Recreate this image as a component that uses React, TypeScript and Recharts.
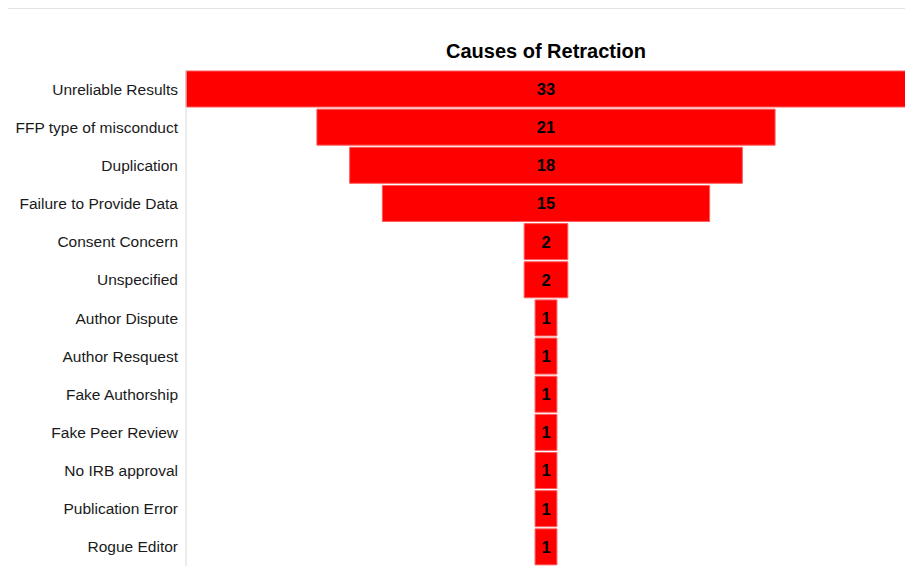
import React from 'react';
import { BarChart, Bar, XAxis, YAxis, LabelList } from 'recharts';

// retraction causes, ordered largest first so the bars form a funnel
const causes = [
  'Unreliable Results',
  'FFP type of misconduct',
  'Duplication',
  'Failure to Provide Data',
  'Consent Concern',
  'Unspecified',
  'Author Dispute',
  'Author Resquest',
  'Fake Authorship',
  'Fake Peer Review',
  'No IRB approval',
  'Publication Error',
  'Rogue Editor',
];
const counts = [33, 21, 18, 15, 2, 2, 1, 1, 1, 1, 1, 1, 1];

const maxCount = Math.max(...counts);

// an invisible "pad" bar pushes each count bar to the centre
const funnelData = causes.map((cause, i) => ({
  cause,
  count: counts[i],
  pad: (maxCount - counts[i]) / 2,
}));

const FONT = '"Liberation Sans", Arial, sans-serif';

const CountLabel = (props: any) => {
  const { x, y, width, height, value } = props;
  return (
    <text
      x={Number(x) + Number(width) / 2}
      y={Number(y) + Number(height) / 2}
      dy="0.36em"
      textAnchor="middle"
      fill="#000"
      fontSize={16.5}
      fontWeight={700}
      fontFamily={FONT}
    >
      {value}
    </text>
  );
};

export default function App() {
  return (
    <div
      style={{
        position: 'relative',
        width: 960,
        height: 620,
        marginLeft: -1,
        border: '1px solid #e3e3e3',
        fontFamily: FONT,
      }}
    >
      <style>{'html{overflow:hidden} body{width:960px}'}</style>
      <div
        style={{
          position: 'absolute',
          left: 388,
          top: 31,
          width: 300,
          textAlign: 'center',
          fontSize: 20,
          lineHeight: '23px',
          fontWeight: 700,
          color: '#000',
        }}
      >
        Causes of Retraction
      </div>
      <BarChart
        width={898}
        height={557}
        data={funnelData}
        layout="vertical"
        margin={{ top: 61, right: 0, bottom: 0, left: 0 }}
        barSize={36}
      >
        <XAxis type="number" domain={[0, maxCount]} hide />
        <YAxis
          type="category"
          dataKey="cause"
          width={178}
          tickLine={false}
          axisLine={{ stroke: '#d9d9d9' }}
          tick={{ fill: '#1a1a1a', fontSize: 15.5, fontFamily: FONT }}
          interval={0}
        />
        <Bar dataKey="pad" stackId="funnel" fill="transparent" isAnimationActive={false} />
        <Bar
          dataKey="count"
          stackId="funnel"
          fill="#ff0000"
          stroke="#ff5c5c"
          strokeWidth={1}
          isAnimationActive={false}
        >
          <LabelList dataKey="count" content={CountLabel} />
        </Bar>
      </BarChart>
    </div>
  );
}
